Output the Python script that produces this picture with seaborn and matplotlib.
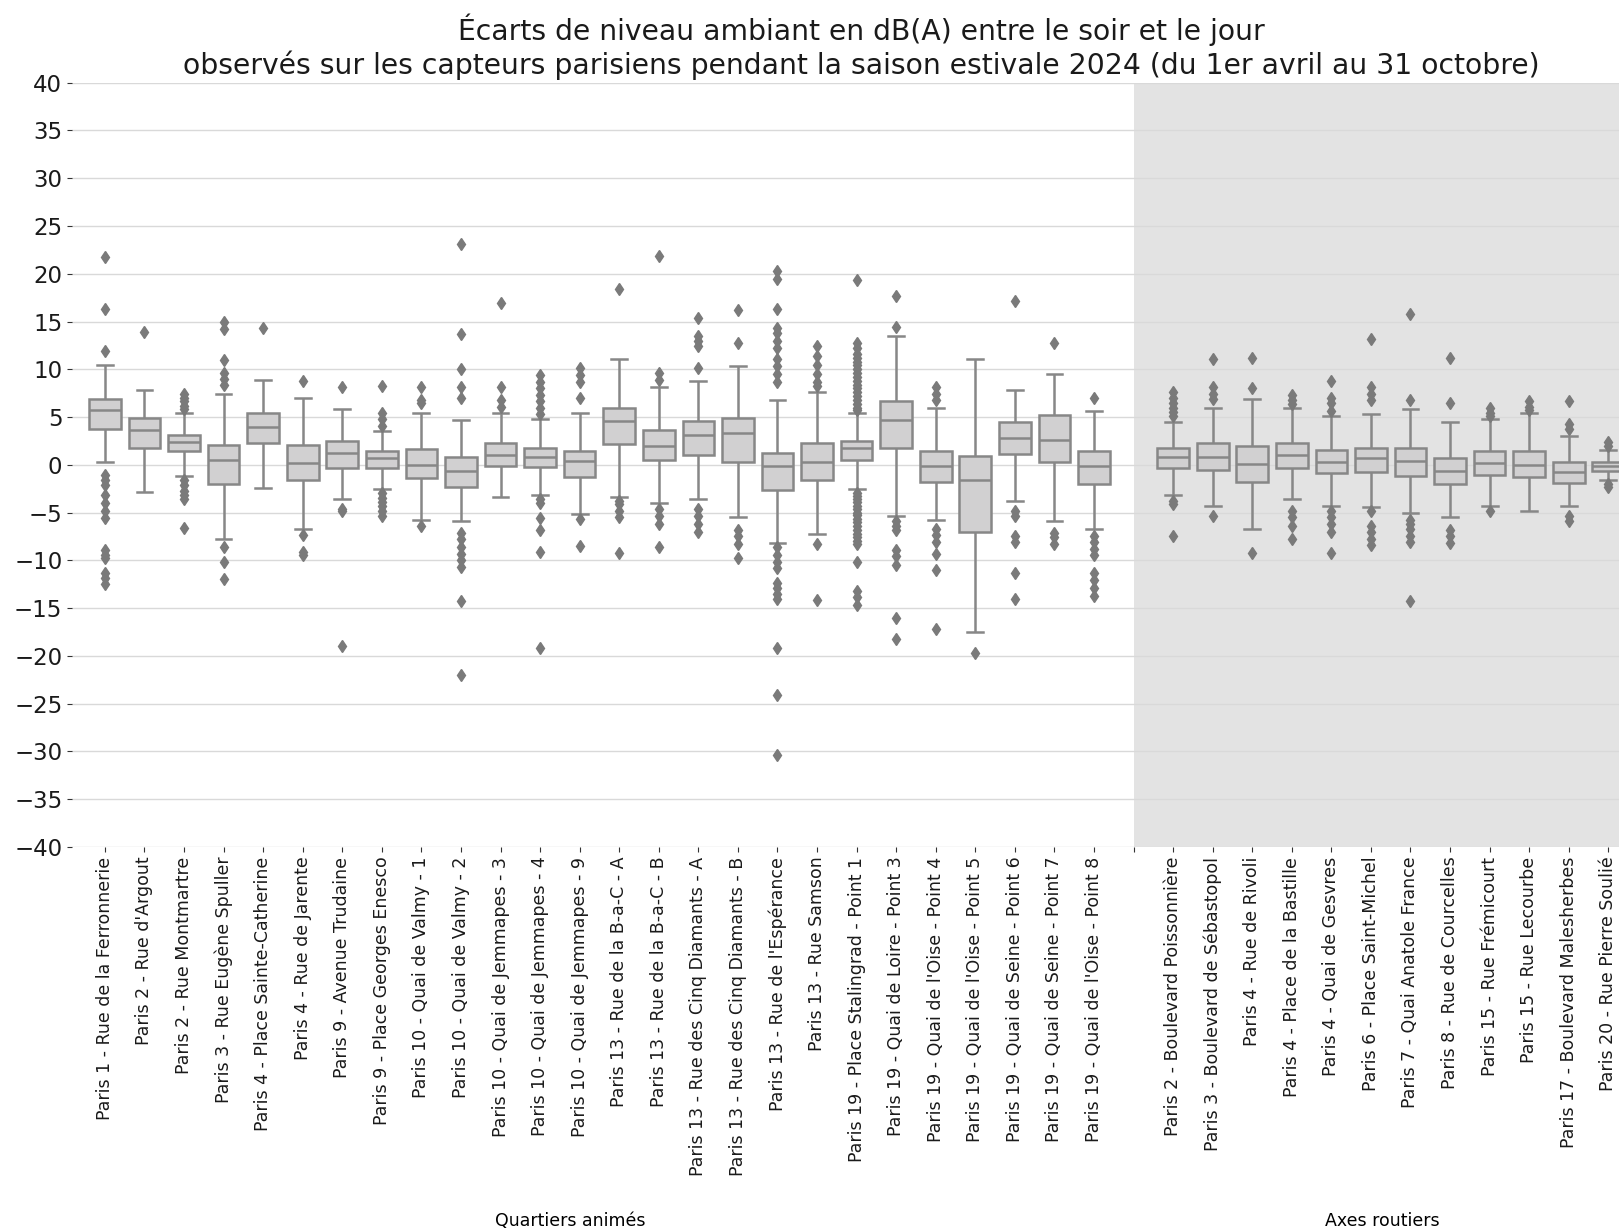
import numpy as np
import pandas as pd
import matplotlib
matplotlib.use("Agg")
import matplotlib.pyplot as plt
import matplotlib.transforms as mtransforms
import seaborn as sns

# ---------------- data ----------------
capteurs_quartiers = [
    "Paris 1 - Rue de la Ferronnerie", "Paris 2 - Rue d'Argout", "Paris 2 - Rue Montmartre",
    "Paris 3 - Rue Eugène Spuller", "Paris 4 - Place Sainte-Catherine", "Paris 4 - Rue de Jarente",
    "Paris 9 - Avenue Trudaine", "Paris 9 - Place Georges Enesco", "Paris 10 - Quai de Valmy - 1",
    "Paris 10 - Quai de Valmy - 2", "Paris 10 - Quai de Jemmapes - 3", "Paris 10 - Quai de Jemmapes - 4",
    "Paris 10 - Quai de Jemmapes - 9", "Paris 13 - Rue de la B-a-C - A", "Paris 13 - Rue de la B-a-C - B",
    "Paris 13 - Rue des Cinq Diamants - A", "Paris 13 - Rue des Cinq Diamants - B",
    "Paris 13 - Rue de l'Espérance", "Paris 13 - Rue Samson", "Paris 19 - Place Stalingrad - Point 1",
    "Paris 19 - Quai de Loire - Point 3", "Paris 19 - Quai de l'Oise - Point 4",
    "Paris 19 - Quai de l'Oise - Point 5", "Paris 19 - Quai de Seine - Point 6",
    "Paris 19 - Quai de Seine - Point 7", "Paris 19 - Quai de l'Oise - Point 8",
]
capteurs_axes = [
    "Paris 2 - Boulevard Poissonnière", "Paris 3 - Boulevard de Sébastopol", "Paris 4 - Rue de Rivoli",
    "Paris 4 - Place de la Bastille", "Paris 4 - Quai de Gesvres", "Paris 6 - Place Saint-Michel",
    "Paris 7 - Quai Anatole France", "Paris 8 - Rue de Courcelles", "Paris 15 - Rue Frémicourt",
    "Paris 15 - Rue Lecourbe", "Paris 17 - Boulevard Malesherbes", "Paris 20 - Rue Pierre Soulié",
]
group_labels = ["Quartiers animés", "Axes routiers"]

# box statistics per sensor (same order as capteurs_quartiers + capteurs_axes)
whisker_low = [0.3, -2.8, -1.2, -7.8, -2.4, -6.7, -3.6, -2.5, -5.8, -5.9, -3.4, -3.2, -5.1,
               -3.4, -4.0, -3.6, -5.5, -8.2, -7.25, -2.5, -5.4, -5.75, -17.5, -3.75, -5.9, -6.7,
               -3.2, -4.3, -6.7, -3.6, -4.3, -4.45, -5.0, -5.5, -4.3, -4.8, -4.3, -1.6]
q1 = [3.8, 1.75, 1.4, -2.0, 2.25, -1.6, -0.35, -0.3, -1.43, -2.3, -0.1, -0.24, -1.25,
      2.2, 0.46, 1.0, 0.3, -2.6, -1.6, 0.46, 1.8, -1.75, -7.0, 1.1, 0.3, -2.0,
      -0.35, -0.5, -1.75, -0.35, -0.9, -0.8, -1.2, -2.0, -1.05, -1.3, -1.86, -0.6]
median = [5.7, 3.6, 2.35, 0.55, 4.0, 0.2, 1.27, 0.7, 0.0, -0.6, 1.0, 0.84, 0.4,
          4.6, 2.0, 3.1, 3.3, -0.1, 0.3, 1.8, 4.7, -0.1, -1.6, 2.8, 2.6, -0.1,
          0.84, 0.84, 0.13, 1.0, 0.3, 0.67, 0.4, -0.6, 0.2, 0.0, -0.8, -0.15]
q3 = [6.9, 4.9, 3.15, 2.1, 5.4, 2.1, 2.45, 1.4, 1.7, 0.84, 2.3, 1.8, 1.45,
      6.0, 3.6, 4.6, 4.9, 1.2, 2.3, 2.45, 6.66, 1.4, 0.94, 4.45, 5.2, 1.4,
      1.8, 2.3, 2.0, 2.3, 1.54, 1.8, 1.8, 0.67, 1.4, 1.4, 0.3, 0.3]
whisker_high = [10.5, 7.85, 5.4, 7.4, 8.9, 7.0, 5.8, 3.5, 5.4, 4.7, 5.4, 4.8, 5.4,
                11.1, 8.1, 8.8, 10.3, 6.8, 7.6, 5.4, 13.5, 6.0, 11.1, 7.85, 9.5, 5.6,
                4.45, 6.0, 6.9, 6.0, 5.1, 5.3, 5.8, 4.5, 4.8, 5.4, 3.0, 1.6]
fliers_low = [
    [-1.05, -1.6, -2.1, -3.2, -4.0, -4.8, -5.6, -8.9, -9.4, -9.8, -11.3, -11.8, -12.5],
    [],
    [-1.6, -2.1, -2.7, -3.2, -3.6, -6.6],
    [-8.6, -10.2, -11.9],
    [],
    [-7.3, -9.1, -9.4],
    [-4.65, -4.8, -19.0],
    [-2.9, -3.5, -3.9, -4.3, -4.8, -5.4],
    [-6.4],
    [-7.1, -7.8, -8.6, -9.3, -10.0, -10.7, -14.3, -22.0],
    [],
    [-3.6, -4.0, -5.6, -6.8, -9.1, -19.2],
    [-5.7, -8.5],
    [-3.75, -4.1, -4.8, -5.5, -9.25],
    [-4.6, -5.4, -6.2, -8.6],
    [-4.6, -5.4, -6.2, -7.0],
    [-6.8, -7.5, -8.3, -9.8],
    [-8.6, -9.4, -10.2, -10.8, -12.4, -12.9, -13.5, -14.0, -19.2, -24.1, -30.4],
    [-8.3, -14.1],
    [-2.9, -3.3, -3.6, -3.9, -4.3, -4.6, -5.0, -5.3, -5.7, -6.0, -6.4, -6.8, -7.2, -7.6,
     -8.0, -8.3, -10.2, -13.2, -13.8, -14.7],
    [-5.9, -6.4, -6.8, -8.9, -9.5, -10.5, -16.0, -18.2],
    [-6.7, -7.3, -8.1, -9.3, -11.0, -17.2],
    [-19.7],
    [-4.8, -5.4, -7.5, -8.1, -11.3, -14.0],
    [-7.15, -7.6, -8.3],
    [-7.5, -8.1, -8.8, -9.4, -11.3, -12.1, -12.9, -13.7],
    [-3.75, -4.1, -7.5],
    [-5.4],
    [-9.25],
    [-4.8, -5.5, -6.4, -7.8],
    [-4.8, -5.5, -6.2, -7.0, -9.25],
    [-4.8, -6.4, -7.0, -7.8, -8.4],
    [-5.75, -6.2, -6.7, -7.4, -8.1, -14.3],
    [-6.8, -7.5, -8.2],
    [-4.8],
    [],
    [-5.4, -5.9],
    [-2.0, -2.3],
]
fliers_high = [
    [11.9, 16.3, 21.8],
    [13.9],
    [5.85, 6.2, 6.7, 7.0, 7.4],
    [8.4, 9.0, 9.6, 11.0, 14.2, 14.9],
    [14.3],
    [8.8],
    [8.1],
    [4.1, 4.8, 5.4, 8.3],
    [6.5, 6.8, 8.1],
    [7.0, 8.1, 10.0, 13.7, 23.1],
    [6.1, 6.8, 8.1, 16.9],
    [5.3, 6.0, 6.7, 7.3, 8.0, 8.7, 9.4],
    [7.0, 8.7, 9.4, 10.1],
    [18.4],
    [8.9, 9.6, 21.9],
    [10.1, 12.4, 13.0, 13.5, 15.4],
    [12.7, 16.2],
    [8.7, 9.5, 10.3, 11.1, 12.2, 13.0, 13.8, 14.3, 16.3, 19.5, 20.3],
    [8.3, 8.7, 9.5, 10.5, 11.4, 12.4],
    [5.7, 6.0, 6.4, 6.8, 7.2, 7.6, 8.0, 8.4, 8.8, 9.2, 9.6, 10.0, 10.4, 10.8, 11.2, 11.6,
     12.2, 12.7, 19.3],
    [14.4, 17.7],
    [6.8, 7.4, 8.1],
    [],
    [17.1],
    [12.7],
    [7.0],
    [5.1, 5.5, 6.0, 6.5, 7.0, 7.6],
    [6.9, 7.4, 8.1, 11.1],
    [8.0, 11.2],
    [6.35, 6.8, 7.3],
    [5.6, 6.5, 7.0, 8.8],
    [6.8, 7.4, 8.1, 13.2],
    [6.8, 15.8],
    [6.5, 11.2],
    [5.15, 5.4, 6.0],
    [5.7, 6.1, 6.7],
    [3.8, 4.3, 6.7],
    [2.0, 2.35],
]

# ---------------- build a long table whose quartiles reproduce the stats ----------------
capteurs = capteurs_quartiers + capteurs_axes
rows = []
for i, name in enumerate(capteurs):
    lo = sorted(fliers_low[i])
    hi = sorted(fliers_high[i])
    k = max(len(lo), len(hi)) + 1
    vals = (lo + [whisker_low[i]] + [q1[i]] * (k - len(lo))
            + [median[i]] * k + [q3[i]] * k
            + [whisker_high[i]] * (k - len(hi)) + hi)
    rows += [(name, v) for v in vals]
df = pd.DataFrame(rows, columns=["capteur", "ecart"])

order = capteurs_quartiers + [""] + capteurs_axes
n_q = len(capteurs_quartiers)

# ---------------- figure ----------------
plt.rcParams["font.family"] = ["DejaVu Sans"]
fig = plt.figure(figsize=(16.19, 12.32), dpi=100)
ax = fig.add_axes([0.0445, 0.3125, 0.9555, 0.6204])

ax.axvspan(n_q, len(order) + 2, color="#e3e3e3", zorder=0, lw=0)

sns.boxplot(data=df, x="capteur", y="ecart", order=order, ax=ax,
            color="#d1d0d1", saturation=1, linecolor="#878787", linewidth=1.8,
            width=0.8, fliersize=6.5,
            flierprops=dict(marker="d", markerfacecolor="#7a7a7a",
                            markeredgecolor="#7a7a7a"))

ax.set_xlim(-0.83, 38.27)
ax.set_ylim(-40, 40)
ax.set_yticks(np.arange(-40, 41, 5))
ax.set_axisbelow(True)
ax.yaxis.grid(True, color="#d9d9d9", linewidth=1.0)
ax.xaxis.grid(False)
for s in ax.spines.values():
    s.set_visible(False)
ax.set_xlabel("")
ax.set_ylabel("")
ax.tick_params(axis="y", labelsize=16.5, colors="#333333", labelcolor="#1a1a1a")
ax.tick_params(axis="x", labelsize=12.5, rotation=90, colors="#333333", labelcolor="#1a1a1a")

ax.set_title("Écarts de niveau ambiant en dB(A) entre le soir et le jour\n"
             "observés sur les capteurs parisiens pendant la saison estivale 2024 (du 1er avril au 31 octobre)",
             fontsize=20.3, x=0.51, pad=6, color="#1a1a1a")

trans = mtransforms.blended_transform_factory(ax.transData, fig.transFigure)
ax.text(11.75, 0.009, group_labels[0], transform=trans, ha="center", va="center", fontsize=12.5)
ax.text(32.3, 0.009, group_labels[1], transform=trans, ha="center", va="center", fontsize=12.5)

fig.savefig("out.png", dpi=100)
